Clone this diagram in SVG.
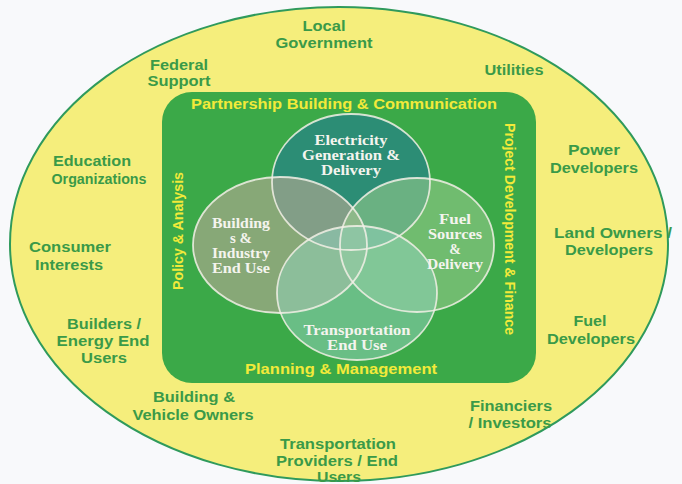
<svg xmlns="http://www.w3.org/2000/svg" width="682" height="484" viewBox="0 0 682 484">
<style>
.o{font-family:"Liberation Sans",Arial,sans-serif;font-weight:bold;font-size:14.5px;fill:#3a9a48;text-anchor:middle}
.y{font-family:"Liberation Sans",Arial,sans-serif;font-weight:bold;font-size:14.5px;fill:#f2ea3a;text-anchor:middle}
.c{font-family:"Liberation Serif","Times New Roman",serif;font-weight:bold;font-size:14px;fill:#f4f4ee;text-anchor:middle}
.ring{fill:none;stroke:#f2f0e6;stroke-width:1.8;stroke-opacity:0.85}
</style>
<rect width="682" height="484" fill="#f8f9fb"/>
<g id="outer">
<ellipse cx="339" cy="244" rx="329" ry="237" fill="#f5ee7c" stroke="#2f9a5c" stroke-width="2"/>
</g>
<g id="frame">
<rect x="162" y="92" width="374" height="291" rx="30" fill="#3ba948"/>
<text class="y" x="344" y="109" textLength="306" lengthAdjust="spacingAndGlyphs">Partnership Building &amp; Communication</text>
<text class="y" x="341" y="374" textLength="192" lengthAdjust="spacingAndGlyphs">Planning &amp; Management</text>
<text class="y" transform="translate(183,231) rotate(-90)" textLength="118" lengthAdjust="spacingAndGlyphs">Policy &amp; Analysis</text>
<text class="y" transform="translate(505,229) rotate(90)" textLength="212" lengthAdjust="spacingAndGlyphs">Project Development &amp; Finance</text>
</g>
<g id="venn">
<ellipse cx="351" cy="182" rx="79" ry="68" fill="#2b8a7a" fill-opacity="0.9"/>
<ellipse cx="280" cy="245" rx="87" ry="68" fill="#b0a890" fill-opacity="0.65"/>
<ellipse cx="417" cy="245" rx="77" ry="67" fill="#95c98a" fill-opacity="0.6"/>
<ellipse cx="357" cy="293" rx="80" ry="67" fill="#8fd0b8" fill-opacity="0.55"/>
<ellipse class="ring" cx="351" cy="182" rx="79" ry="68"/>
<ellipse class="ring" cx="280" cy="245" rx="87" ry="68"/>
<ellipse class="ring" cx="417" cy="245" rx="77" ry="67"/>
<ellipse class="ring" cx="357" cy="293" rx="80" ry="67"/>
</g>
<g id="electricity">
<text class="c" x="351" y="145" textLength="73" lengthAdjust="spacingAndGlyphs">Electricity</text>
<text class="c" x="351" y="160" textLength="98" lengthAdjust="spacingAndGlyphs">Generation &amp;</text>
<text class="c" x="351" y="175" textLength="60" lengthAdjust="spacingAndGlyphs">Delivery</text>
</g>
<g id="buildings">
<text class="c" x="241" y="228" textLength="58" lengthAdjust="spacingAndGlyphs">Building</text>
<text class="c" x="241" y="243" textLength="22" lengthAdjust="spacingAndGlyphs">s &amp;</text>
<text class="c" x="241" y="258" textLength="58" lengthAdjust="spacingAndGlyphs">Industry</text>
<text class="c" x="241" y="273" textLength="58" lengthAdjust="spacingAndGlyphs">End Use</text>
</g>
<g id="fuel">
<text class="c" x="455" y="224" textLength="32" lengthAdjust="spacingAndGlyphs">Fuel</text>
<text class="c" x="455" y="239" textLength="54" lengthAdjust="spacingAndGlyphs">Sources</text>
<text class="c" x="455" y="254">&amp;</text>
<text class="c" x="455" y="269" textLength="56" lengthAdjust="spacingAndGlyphs">Delivery</text>
</g>
<g id="transportation">
<text class="c" x="357" y="335" textLength="107" lengthAdjust="spacingAndGlyphs">Transportation</text>
<text class="c" x="357" y="350" textLength="60" lengthAdjust="spacingAndGlyphs">End Use</text>
</g>
<g id="local"><text class="o" x="324" y="31" textLength="43" lengthAdjust="spacingAndGlyphs">Local</text><text class="o" x="324" y="48" textLength="97" lengthAdjust="spacingAndGlyphs">Government</text></g>
<g id="federal"><text class="o" x="179" y="70" textLength="58" lengthAdjust="spacingAndGlyphs">Federal</text><text class="o" x="179" y="86" textLength="63" lengthAdjust="spacingAndGlyphs">Support</text></g>
<g id="utilities"><text class="o" x="514" y="75" textLength="59" lengthAdjust="spacingAndGlyphs">Utilities</text></g>
<g id="education"><text class="o" x="92" y="166" textLength="78" lengthAdjust="spacingAndGlyphs">Education</text><text class="o" x="99" y="184" textLength="95" lengthAdjust="spacingAndGlyphs">Organizations</text></g>
<g id="power"><text class="o" x="594" y="155" textLength="52" lengthAdjust="spacingAndGlyphs">Power</text><text class="o" x="594" y="173" textLength="88" lengthAdjust="spacingAndGlyphs">Developers</text></g>
<g id="consumer"><text class="o" x="70" y="252" textLength="82" lengthAdjust="spacingAndGlyphs">Consumer</text><text class="o" x="69" y="270" textLength="68" lengthAdjust="spacingAndGlyphs">Interests</text></g>
<g id="land"><text class="o" x="613" y="238" textLength="118" lengthAdjust="spacingAndGlyphs">Land Owners /</text><text class="o" x="609" y="255" textLength="88" lengthAdjust="spacingAndGlyphs">Developers</text></g>
<g id="builders"><text class="o" x="104" y="329" textLength="74" lengthAdjust="spacingAndGlyphs">Builders /</text><text class="o" x="103" y="346" textLength="93" lengthAdjust="spacingAndGlyphs">Energy End</text><text class="o" x="104" y="363" textLength="46" lengthAdjust="spacingAndGlyphs">Users</text></g>
<g id="fueldev"><text class="o" x="590" y="326" textLength="33" lengthAdjust="spacingAndGlyphs">Fuel</text><text class="o" x="591" y="344" textLength="88" lengthAdjust="spacingAndGlyphs">Developers</text></g>
<g id="owners"><text class="o" x="194" y="402" textLength="82" lengthAdjust="spacingAndGlyphs">Building &amp;</text><text class="o" x="193" y="420" textLength="121" lengthAdjust="spacingAndGlyphs">Vehicle Owners</text></g>
<g id="financiers"><text class="o" x="511" y="411" textLength="82" lengthAdjust="spacingAndGlyphs">Financiers</text><text class="o" x="510" y="428" textLength="83" lengthAdjust="spacingAndGlyphs">/ Investors</text></g>
<g id="providers"><text class="o" x="338" y="449" textLength="116" lengthAdjust="spacingAndGlyphs">Transportation</text><text class="o" x="337" y="466" textLength="122" lengthAdjust="spacingAndGlyphs">Providers / End</text><text class="o" x="339" y="482" textLength="44" lengthAdjust="spacingAndGlyphs">Users</text></g>
</svg>
